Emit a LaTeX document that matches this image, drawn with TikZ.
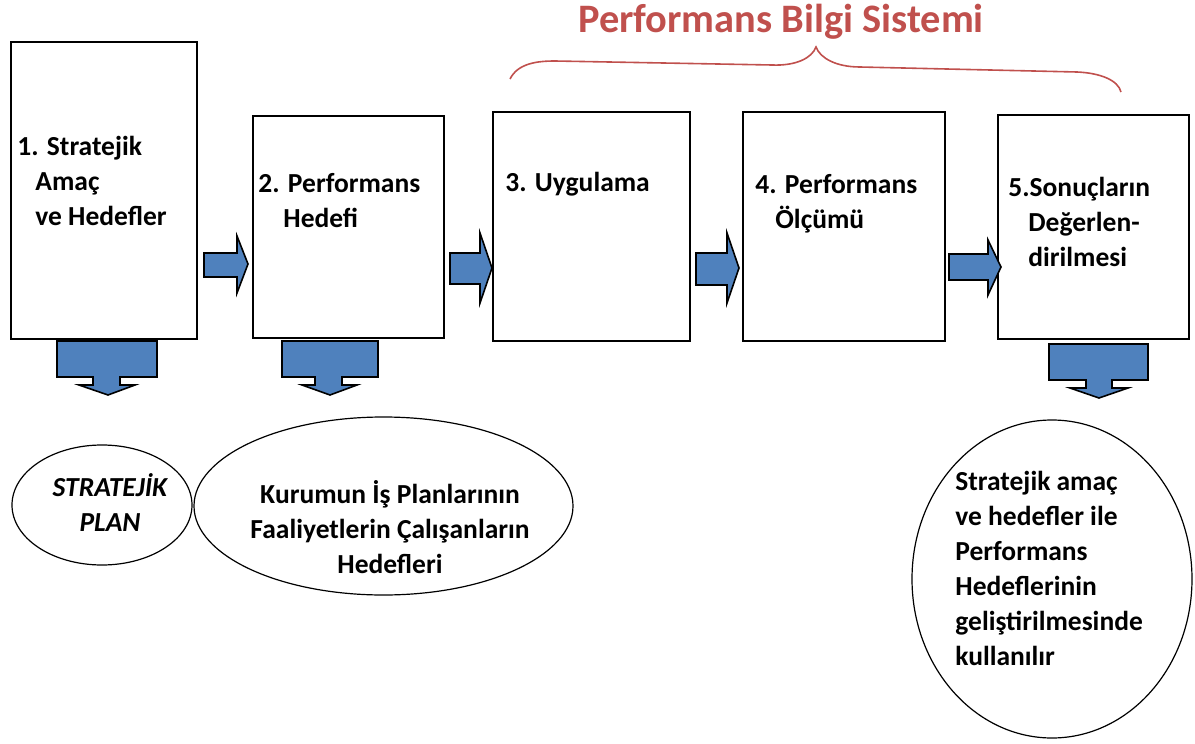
\documentclass[tikz,border=0pt]{standalone}
\usepackage{fontspec}
\setmainfont{Carlito}
\usepackage{xcolor}
\definecolor{pbsred}{HTML}{C0504D}
\definecolor{arrowblue}{HTML}{4F81BD}
\usetikzlibrary{shapes.geometric}
\tikzset{
    stepbox/.style={draw, line width=0.8pt, fill=white, inner sep=0pt},
    oval/.style={draw, ellipse, line width=0.6pt, inner sep=0pt},
    txt/.style={inner sep=0pt, font=\fontsize{13.75}{17.5}\selectfont\bfseries, align=left},
    blockarrow/.style={draw, fill=arrowblue, line width=0.8pt, line join=miter},
    brace/.style={draw=pbsred, line width=0.8pt}
}

\begin{document}
\begin{tikzpicture}[x=0.5pt, y=-0.5pt]
                \useasboundingbox (0,0) rectangle (1195,744);
                \node[font=\fontsize{20.2}{24}\selectfont\bfseries, text=pbsred, inner sep=0pt] (pbs) at (781,22) {Performans Bilgi Sistemi};
                \draw[brace] (510,79) .. controls (518,63) and (538,61) .. (555,61) -- (772,65) .. controls (796,66) and (812,58) .. (816,47) .. controls (820,58) and (836,67) .. (860,67) -- (1077,72) .. controls (1100,73) and (1118,80) .. (1121,92);
                \node[stepbox, minimum width=93pt, minimum height=148.5pt] (b1) at (104,190.5) {};
                \node[stepbox, minimum width=95.5pt, minimum height=111pt] (b2) at (348.5,227) {};
                \node[stepbox, minimum width=98.5pt, minimum height=114.5pt] (b3) at (591.5,226.5) {};
                \node[stepbox, minimum width=101pt, minimum height=114.5pt] (b4) at (844,226.5) {};
                \node[stepbox, minimum width=95.5pt, minimum height=112pt] (b5) at (1093.5,227) {};
                \node[txt, anchor=north west] (t1) at (17,136) {1. Stratejik\\\hspace*{9pt}Amaç\\\hspace*{9pt}ve Hedefler};
                \node[txt, anchor=north west] (t2) at (258,173) {2. Performans\\\hspace*{12.5pt}Hedefi};
                \node[txt, anchor=north west] (t3) at (505,172) {3. Uygulama};
                \node[txt, anchor=north west] (t4) at (755,174) {4. Performans\\\hspace*{10pt}Ölçümü};
                \node[txt, anchor=north west] (t5) at (1008,177) {5.Sonuçların\\\hspace*{10pt}Değerlen-\\\hspace*{10pt}dirilmesi};
                \draw[blockarrow] (204,253) -- (237,253) -- (237,236) -- (248,264) -- (237,293) -- (237,277) -- (204,277) -- cycle;
                \draw[blockarrow] (450,253) -- (480,253) -- (480,233) -- (492,268) -- (480,303) -- (480,284) -- (450,284) -- cycle;
                \draw[blockarrow] (696,253) -- (727,253) -- (727,233) -- (739,268) -- (727,303) -- (727,285) -- (696,285) -- cycle;
                \draw[blockarrow] (949,254) -- (988,254) -- (988,240) -- (1001,267) -- (988,295) -- (988,280) -- (949,280) -- cycle;
                \draw[blockarrow] (57,341) -- (157,341) -- (157,377) -- (120,377) -- (120,385) -- (135,385) -- (108,395) -- (79,385) -- (93,385) -- (93,377) -- (57,377) -- cycle;
                \draw[blockarrow] (282,341) -- (378,341) -- (378,377) -- (342,377) -- (342,385) -- (357,385) -- (330,395) -- (302,385) -- (315,385) -- (315,377) -- (282,377) -- cycle;
                \draw[blockarrow] (1049,344) -- (1148,344) -- (1148,380) -- (1112,380) -- (1112,388) -- (1128,388) -- (1099,398) -- (1070,388) -- (1086,388) -- (1086,380) -- (1049,380) -- cycle;
                \node[oval, minimum width=90pt, minimum height=60pt] (e1) at (102,505) {};
                \node[oval, minimum width=189.5pt, minimum height=89pt] (e2) at (383.5,506) {};
                \node[oval, minimum width=140pt, minimum height=159pt] (e3) at (1052,579) {};
                \node[txt, align=center] (t6) at (110,503) {\itshape STRATEJİK\\\itshape PLAN};
                \node[txt, align=center] (t7) at (390,527) {Kurumun İş Planlarının\\Faaliyetlerin Çalışanların\\Hedefleri};
                \node[txt, anchor=west] (t8) at (955,568) {Stratejik amaç\\ve hedefler ile\\Performans\\Hedeflerinin\\geliştirilmesinde\\kullanılır};
\end{tikzpicture}
\end{document}
